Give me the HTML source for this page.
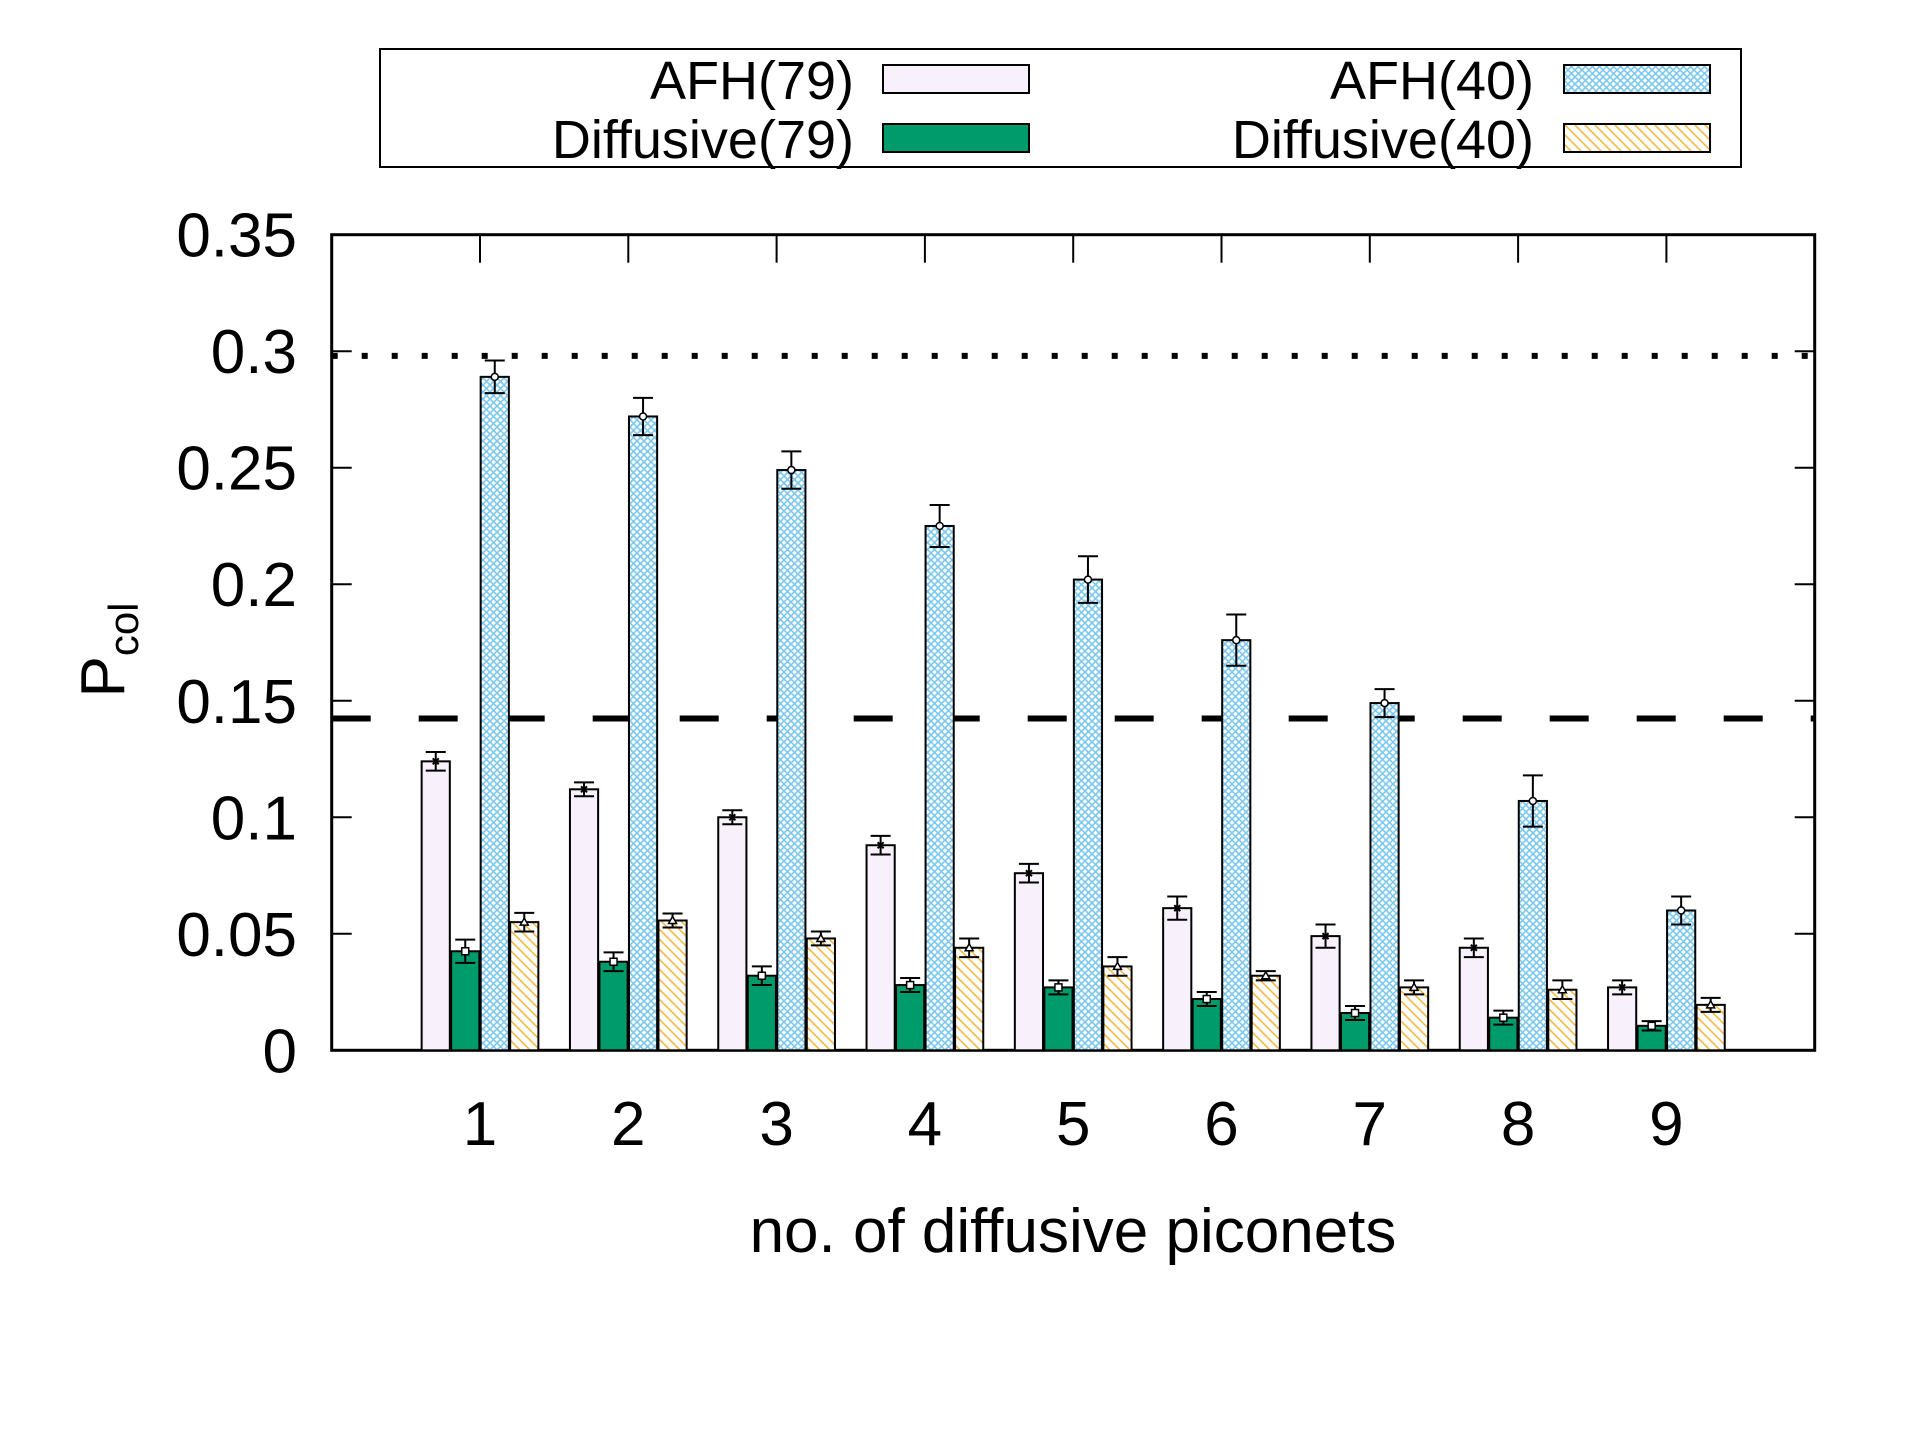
<!DOCTYPE html>
<html><head><meta charset="utf-8"><style>
html,body{margin:0;padding:0;background:#fff;}
svg{display:block;font-family:"Liberation Sans",Arial,sans-serif;}
</style></head><body>
<svg id="chart" width="1920" height="1440" viewBox="0 0 1920 1440">
<defs>
<pattern id="hatchBlue" patternUnits="userSpaceOnUse" width="7" height="7">
<rect width="7" height="7" fill="#fff"/>
<path d="M0,0 L7,7 M7,0 L0,7" stroke="#7cc8ee" stroke-width="1.6"/>
</pattern>
<pattern id="hatchOrange" patternUnits="userSpaceOnUse" width="10" height="10">
<rect width="10" height="10" fill="#fff"/>
<path d="M-2,-2 L12,12 M-2,8 L2,12 M8,-2 L12,2" stroke="#f5b942" stroke-width="1.6"/>
</pattern>
</defs>
<g id="plot"></g>
<g id="legend">
<rect x="380" y="49" width="1361" height="118" fill="#fff" stroke="#000" stroke-width="2"/>
<g>
<text x="854" y="99" font-size="54" text-anchor="end">AFH(79)</text>
<rect x="883" y="65" width="146" height="28" fill="#f8f0fa" stroke="#000" stroke-width="2"/></g>
<g>
<text x="854" y="158" font-size="54" text-anchor="end">Diffusive(79)</text>
<rect x="883" y="124" width="146" height="28" fill="#009b6b" stroke="#000" stroke-width="2"/></g>
<g>
<text x="1534" y="99" font-size="54" text-anchor="end">AFH(40)</text>
<rect x="1564" y="65" width="146" height="28" fill="url(#hatchBlue)" stroke="#000" stroke-width="2"/></g>
<g>
<text x="1534" y="158" font-size="54" text-anchor="end">Diffusive(40)</text>
<rect x="1564" y="124" width="146" height="28" fill="url(#hatchOrange)" stroke="#000" stroke-width="2"/></g>
</g>
<text x="1073" y="1252" font-size="62" text-anchor="middle">no. of diffusive piconets</text>
<text transform="translate(124,650) rotate(-90)" font-size="62" text-anchor="middle">P<tspan font-size="42" dy="14">col</tspan></text>
</svg>
<script>
const categories = [1,2,3,4,5,6,7,8,9];
const afh79 = [0.124,0.112,0.100,0.088,0.076,0.061,0.049,0.044,0.027];
const afh79Err = [0.004,0.003,0.003,0.004,0.004,0.005,0.005,0.004,0.003];
const diff79 = [0.0425,0.038,0.032,0.028,0.027,0.022,0.016,0.014,0.0105];
const diff79Err = [0.005,0.004,0.004,0.003,0.003,0.003,0.003,0.003,0.002];
const afh40 = [0.289,0.272,0.249,0.225,0.202,0.176,0.149,0.107,0.060];
const afh40Err = [0.007,0.008,0.008,0.009,0.010,0.011,0.006,0.011,0.006];
const diff40 = [0.055,0.0557,0.048,0.044,0.036,0.032,0.027,0.026,0.0195];
const diff40Err = [0.004,0.003,0.003,0.004,0.004,0.002,0.003,0.004,0.003];
const yTicks = [0,0.05,0.1,0.15,0.2,0.25,0.3,0.35];
const yTickLabels = ["0","0.05","0.1","0.15","0.2","0.25","0.3","0.35"];
const refDotted = 0.298;
const refDashed = 0.1424;

const L=331.7,R=1814.7,T=234.7,B=1050.3;
const xScale=v=>L+(v/10)*(R-L);
const yScale=v=>B-(v/0.35)*(B-T);
const NS="http://www.w3.org/2000/svg";
const g=document.getElementById('plot');
function el(tag,attrs,parent){const e=document.createElementNS(NS,tag);for(const k in attrs)e.setAttribute(k,attrs[k]);(parent||g).appendChild(e);return e;}

const frame=el('rect',{x:L,y:T,width:R-L,height:B-T,fill:'none',stroke:'#000','stroke-width':3});


yTicks.forEach((v,i)=>{
  const y=yScale(v);
  const t1=el('line',{x1:L,x2:L+20,y1:y,y2:y,stroke:'#000','stroke-width':2});
  
  
  const t2=el('line',{x1:R-20,x2:R,y1:y,y2:y,stroke:'#000','stroke-width':2});
  
  
  const tx=el('text',{x:297,y:y+22,'font-size':62,'text-anchor':'end'});
  tx.textContent=yTickLabels[i];
  
  
});
categories.forEach(c=>{
  const x=xScale(c);
  const t=el('line',{x1:x,x2:x,y1:T,y2:T+28,stroke:'#000','stroke-width':2});
  
  
  const tx=el('text',{x:x,y:1145,'font-size':62,'text-anchor':'middle'});
  tx.textContent=String(c);
  
  
});
const dl=el('line',{x1:L,x2:R,y1:yScale(refDotted),y2:yScale(refDotted),stroke:'#000','stroke-width':6,'stroke-dasharray':'6 24'});


const dsh=el('line',{x1:L,x2:R,y1:yScale(refDashed),y2:yScale(refDashed),stroke:'#000','stroke-width':6,'stroke-dasharray':'39 48'});



const series=[
 {name:'afh79',vals:afh79,err:afh79Err,fill:'#f8f0fa',mk:'x'},
 {name:'diffusive79',vals:diff79,err:diff79Err,fill:'#009b6b',mk:'sq'},
 {name:'afh40',vals:afh40,err:afh40Err,fill:'url(#hatchBlue)',mk:'c'},
 {name:'diffusive40',vals:diff40,err:diff40Err,fill:'url(#hatchOrange)',mk:'tri'}
];
const step=0.199,bw=0.19;
series.forEach((s,si)=>{
  categories.forEach((c,i)=>{
    const cx=xScale(c+(si-1.5)*step);
    const w=xScale(bw)-xScale(0);
    const v=s.vals[i],y=yScale(v);
    const r=el('rect',{x:cx-w/2,y:y,width:w,height:B-y,fill:s.fill,stroke:'#000','stroke-width':2});
    
    
    const y1=yScale(v+s.err[i]),y2=yScale(v-s.err[i]);
    const eb=el('path',{d:`M${cx},${y1}V${y2}M${cx-10},${y1}H${cx+10}M${cx-10},${y2}H${cx+10}`,stroke:'#000','stroke-width':2,fill:'none'});
    
    
    let m;
    if(s.mk==='x') m=el('path',{d:`M${cx-3},${y-3}L${cx+3},${y+3}M${cx+3},${y-3}L${cx-3},${y+3}`,stroke:'#000','stroke-width':2});
    else if(s.mk==='sq') m=el('rect',{x:cx-3.5,y:y-3.5,width:7,height:7,fill:'#fff',stroke:'#000','stroke-width':1.5});
    else if(s.mk==='c') m=el('circle',{cx:cx,cy:y,r:3.5,fill:'#fff',stroke:'#000','stroke-width':1.5});
    else m=el('path',{d:`M${cx},${y-4}L${cx+4},${y+3}L${cx-4},${y+3}Z`,fill:'#fff',stroke:'#000','stroke-width':1.5});
    
    
  });
});
</script>
</body></html>
